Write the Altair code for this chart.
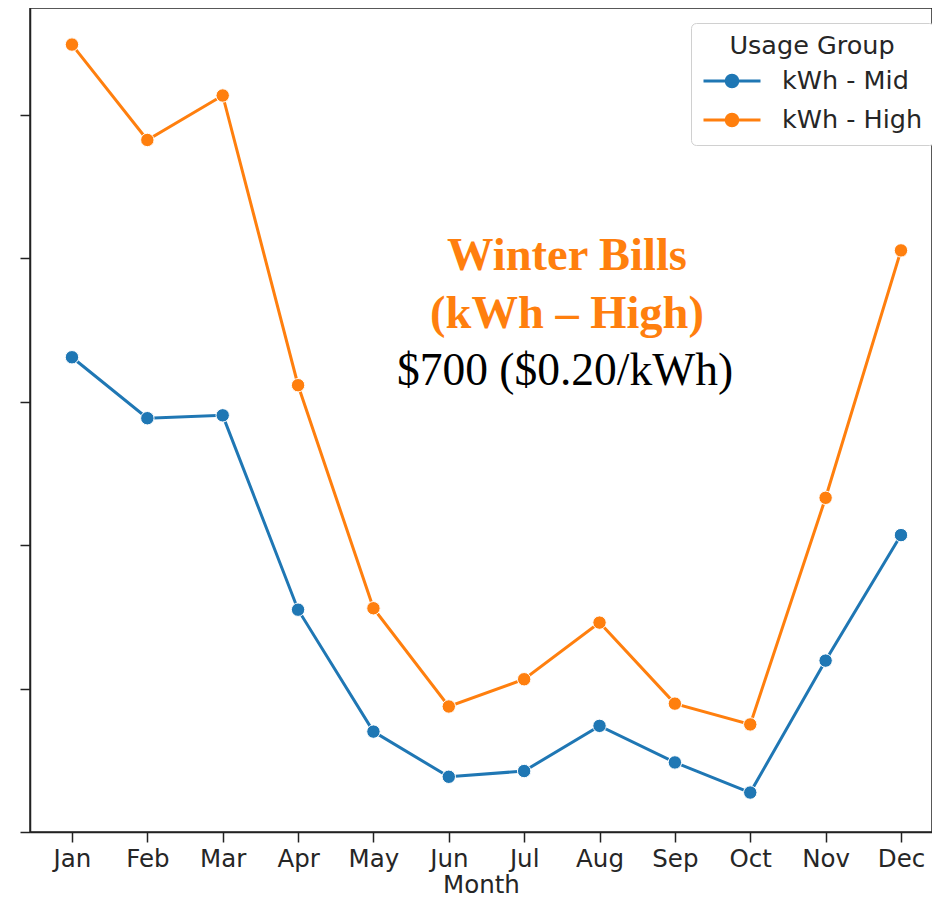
import altair as alt
import pandas as pd

# ---- data ----
months = ["Jan", "Feb", "Mar", "Apr", "May", "Jun", "Jul", "Aug", "Sep", "Oct", "Nov", "Dec"]
kwh_mid = [862, 777, 781, 510, 340, 277, 285, 348, 297, 255, 439, 614]
kwh_high = [1298, 1165, 1227, 823, 512, 375, 413, 492, 379, 350, 666, 1011]
groups = ["kWh - Mid", "kWh - High"]
group_colors = ["#1f77b4", "#ff7f0e"]
y_ticks = [200, 400, 600, 800, 1000, 1200]
y_domain = [200, 1349]
annot_title = ["Winter Bills", "(kWh – High)"]
annot_sub = "$700 ($0.20/kWh)"

df = pd.DataFrame({
    "Month": months * 2,
    "kWh": kwh_mid + kwh_high,
    "Usage Group": [groups[0]] * len(months) + [groups[1]] * len(months),
})

FONT = "DejaVu Sans"
TXT = "#262626"

# legend symbol: short line with a dot in the middle (matplotlib style)
LEG_PATH = ("M-1,0H2"
            "M0.81,0A0.31,0.31,0,1,1,0.19,0A0.31,0.31,0,1,1,0.81,0")

x_enc = alt.X(
    "Month:N", sort=months,
    scale=alt.Scale(type="point", padding=0.4843, align=0.575),
    axis=alt.Axis(title="Month", labelAngle=0, tickSize=10, labelPadding=5,
                  titlePadding=3, labelFont=FONT, titleFont=FONT,
                  labelFontSize=24.5, titleFontSize=24.5, titleFontWeight="normal",
                  labelColor=TXT, titleColor=TXT, domainColor="#222", tickColor="#222",
                  domainWidth=1.5, tickWidth=1.5, grid=False),
)
y_enc = alt.Y(
    "kWh:Q",
    scale=alt.Scale(domain=y_domain, nice=False, zero=False),
    axis=alt.Axis(values=y_ticks, labels=False, title=None, grid=False, tickSize=10,
                  domainColor="#222", tickColor="#222", domainWidth=1.5, tickWidth=1.5),
)
color_enc = alt.Color(
    "Usage Group:N", sort=groups,
    scale=alt.Scale(domain=groups, range=group_colors),
    legend=alt.Legend(
        title="Usage Group", orient="none", legendX=661, legendY=15,
        symbolType=LEG_PATH, symbolSize=1444, symbolStrokeWidth=2.8,
        symbolOpacity=1, labelOffset=39, padding=11, rowPadding=5,
        titleAnchor="middle", titlePadding=1,
        titleFont=FONT, labelFont=FONT, titleFontSize=25.5, labelFontSize=25.5,
        titleFontWeight="normal", titleColor=TXT, labelColor=TXT,
        strokeColor="#d0d0d0", cornerRadius=5, fillColor="white",
    ),
)

lines = alt.Chart(df).mark_line(strokeWidth=3).encode(x=x_enc, y=y_enc, color=color_enc)
points = alt.Chart(df).mark_point(filled=True, size=180, opacity=1, stroke="white",
                                  strokeWidth=1).encode(x=x_enc, y=y_enc, color=color_enc)

note_df = pd.DataFrame({"k": [0]})
note_head = alt.Chart(note_df).mark_text(
    text=annot_title, font="Liberation Serif", fontSize=46.5, fontWeight="bold",
    color="#ff7f0e", align="center", baseline="alphabetic", lineHeight=58,
).encode(x=alt.value(537), y=alt.value(262))
note_sub = alt.Chart(note_df).mark_text(
    text=annot_sub, font="Liberation Serif", fontSize=45.5, color="#000000",
    align="center", baseline="alphabetic",
).encode(x=alt.value(535), y=alt.value(377))

chart = alt.layer(lines, points, note_head, note_sub).properties(
    width=902, height=824,
    autosize=alt.AutoSizeParams(type="none"),
    padding={"left": 22, "top": 0, "right": 0, "bottom": 66},
    background="white",
).configure_view(stroke="#222", strokeWidth=1.5)

chart.save("out.html", embed_options={"renderer": "svg", "actions": False})
